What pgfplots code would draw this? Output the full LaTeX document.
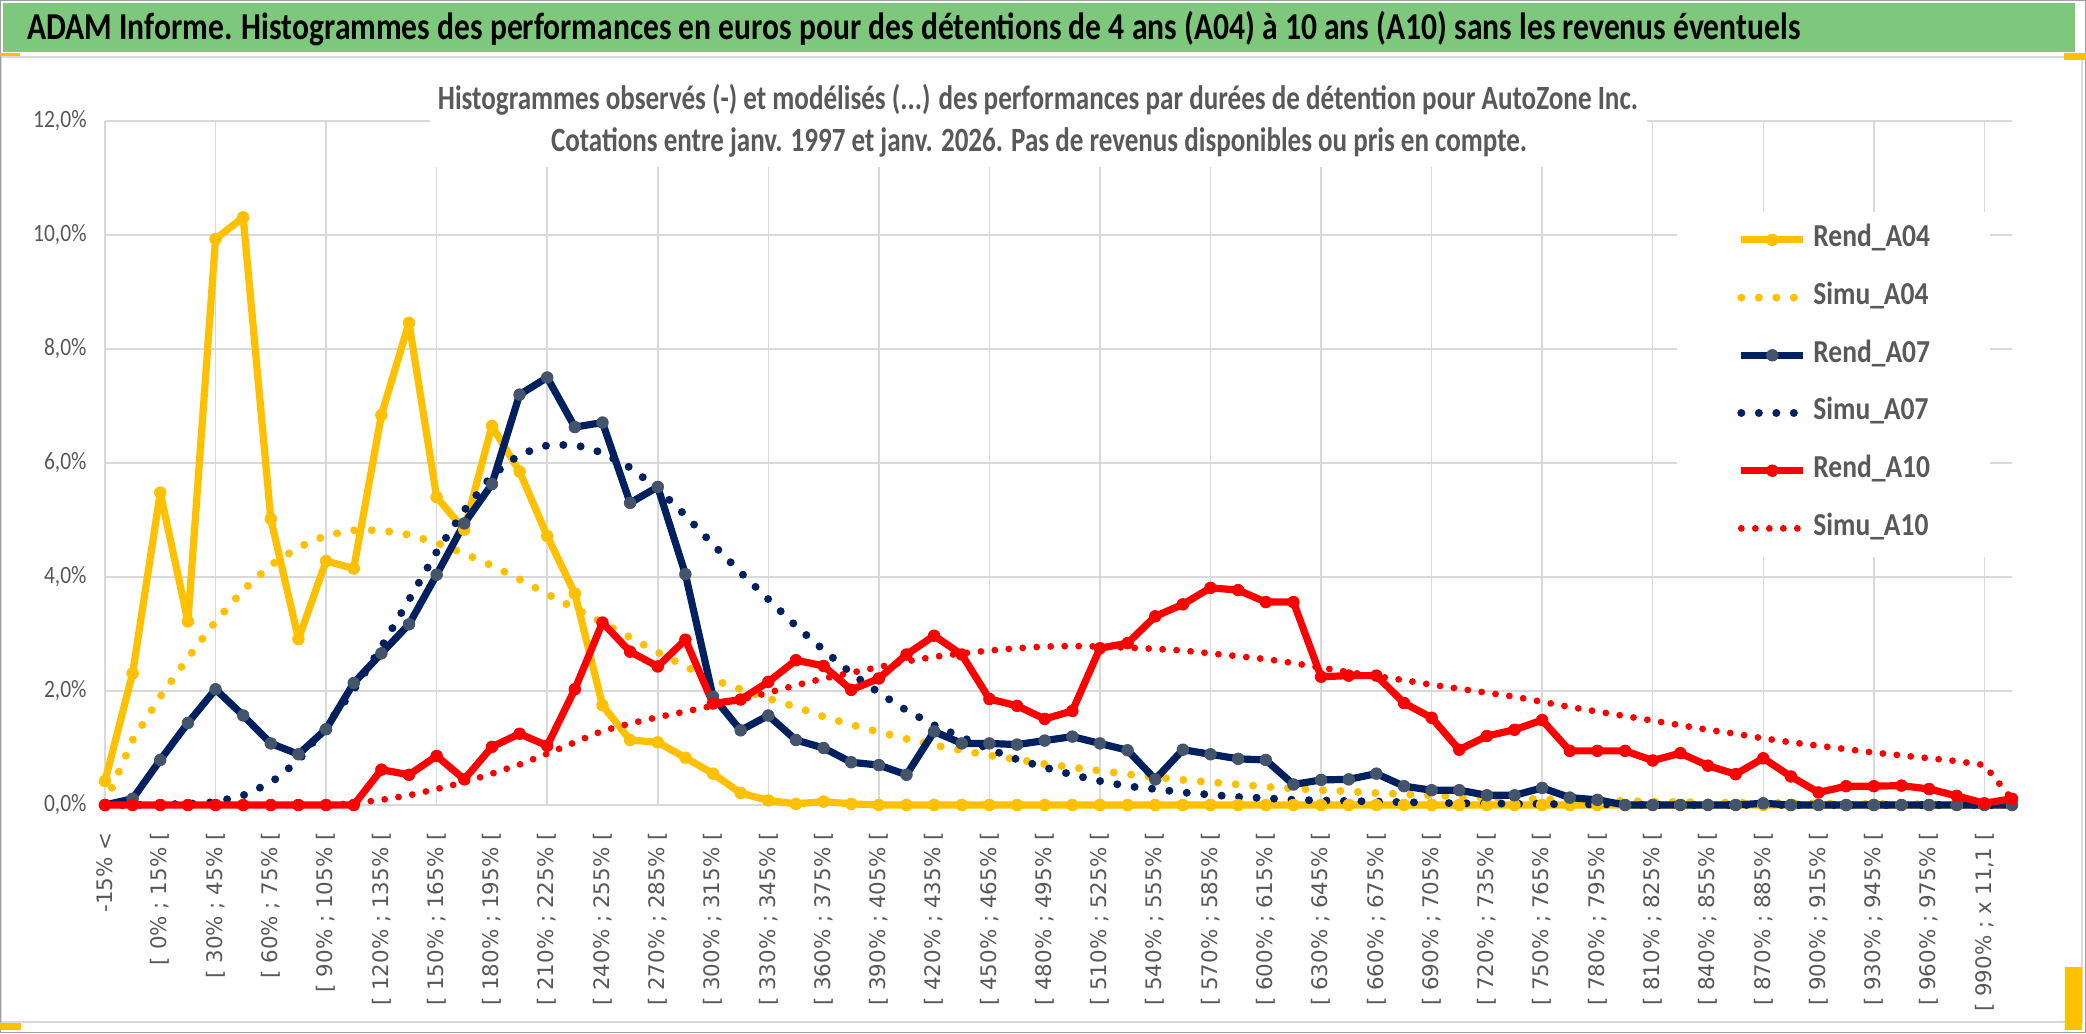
\documentclass[border=0pt]{standalone}
\usepackage{fontspec}
\setmainfont{Carlito}[FakeStretch=0.86]
\newfontfamily\tickfont{DejaVu Sans}
\usepackage{graphicx}
\usepackage{pgfplots}
\usepackage{pgfplotstable}
\pgfplotsset{compat=1.18}

\definecolor{cyellow}{HTML}{FFC000}
\definecolor{cnavy}{HTML}{002060}
\definecolor{cmark}{HTML}{44546A}
\definecolor{cred}{HTML}{FF0000}
\definecolor{txtgray}{HTML}{595959}
\definecolor{gridgray}{HTML}{D9D9D9}
\definecolor{bandgreen}{RGB}{125,200,125}

% i = classe de performance (0 = "-15% <", 2 = "[0%;15%[", ...)
\pgfplotstableread{
i r04 s04 r07 s07 r10 s10
0 0.42 0.02 0.00 0.00 0.00 0.00
1 2.31 1.14 0.11 0.00 0.00 0.00
2 5.48 1.90 0.79 0.01 0.00 0.00
3 3.22 2.58 1.44 0.02 0.00 0.00
4 9.93 3.22 2.03 0.05 0.00 0.00
5 10.31 3.77 1.57 0.17 0.00 0.00
6 5.02 4.21 1.08 0.39 0.00 0.00
7 2.91 4.52 0.89 0.78 0.00 0.00
8 4.28 4.73 1.33 1.39 0.00 0.00
9 4.15 4.82 2.14 2.02 0.00 0.03
10 6.84 4.82 2.66 2.77 0.62 0.09
11 8.46 4.74 3.17 3.60 0.53 0.17
12 5.40 4.60 4.04 4.44 0.86 0.28
13 4.83 4.41 4.94 5.17 0.45 0.40
14 6.65 4.20 5.63 5.78 1.02 0.55
15 5.85 3.96 7.20 6.15 1.25 0.71
16 4.72 3.70 7.50 6.31 1.04 0.90
17 3.71 3.45 6.63 6.32 2.03 1.10
18 1.75 3.20 6.71 6.18 3.20 1.30
19 1.14 2.94 5.30 5.92 2.69 1.43
20 1.10 2.68 5.58 5.55 2.43 1.54
21 0.83 2.43 4.05 5.08 2.90 1.64
22 0.55 2.20 1.90 4.57 1.78 1.74
23 0.21 2.03 1.31 4.08 1.85 1.85
24 0.08 1.87 1.57 3.61 2.16 1.97
25 0.02 1.72 1.14 3.14 2.54 2.10
26 0.06 1.55 1.00 2.72 2.44 2.22
27 0.02 1.41 0.75 2.31 2.02 2.32
28 0.00 1.28 0.70 1.97 2.22 2.42
29 0.00 1.16 0.53 1.66 2.64 2.52
30 0.00 1.05 1.29 1.40 2.97 2.60
31 0.00 0.96 1.08 1.19 2.64 2.66
32 0.00 0.87 1.08 0.98 1.86 2.71
33 0.00 0.80 1.06 0.80 1.74 2.75
34 0.00 0.72 1.13 0.66 1.51 2.78
35 0.00 0.66 1.20 0.53 1.65 2.79
36 0.00 0.60 1.08 0.42 2.75 2.78
37 0.00 0.54 0.96 0.33 2.84 2.76
38 0.00 0.49 0.45 0.28 3.31 2.74
39 0.00 0.44 0.97 0.22 3.52 2.71
40 0.00 0.40 0.89 0.18 3.81 2.66
41 0.00 0.36 0.81 0.14 3.77 2.61
42 0.00 0.32 0.79 0.12 3.56 2.56
43 0.00 0.29 0.36 0.09 3.56 2.49
44 0.00 0.26 0.44 0.08 2.25 2.41
45 0.00 0.24 0.45 0.07 2.27 2.33
46 0.00 0.21 0.55 0.06 2.27 2.26
47 0.00 0.19 0.33 0.05 1.79 2.19
48 0.00 0.17 0.26 0.04 1.53 2.11
49 0.00 0.15 0.26 0.03 0.97 2.04
50 0.00 0.13 0.17 0.03 1.21 1.97
51 0.00 0.12 0.17 0.02 1.32 1.90
52 0.00 0.10 0.30 0.02 1.49 1.81
53 0.00 0.09 0.13 0.01 0.95 1.72
54 0.00 0.08 0.09 0.01 0.95 1.64
55 0.00 0.07 0.00 0.01 0.95 1.56
56 0.00 0.06 0.00 0.00 0.78 1.48
57 0.00 0.05 0.00 0.00 0.91 1.40
58 0.00 0.05 0.00 0.00 0.69 1.32
59 0.00 0.04 0.00 0.00 0.54 1.25
60 0.00 0.04 0.03 0.00 0.82 1.17
61 0.00 0.03 0.00 0.00 0.50 1.10
62 0.00 0.03 0.00 0.00 0.22 1.04
63 0.00 0.02 0.00 0.00 0.33 0.98
64 0.00 0.02 0.00 0.00 0.33 0.92
65 0.00 0.02 0.00 0.00 0.34 0.87
66 0.00 0.01 0.00 0.00 0.28 0.82
67 0.00 0.01 0.00 0.00 0.16 0.77
68 0.00 0.01 0.00 0.00 0.03 0.70
69 0.00 0.00 0.00 0.00 0.11 0.10
}\datatable

\begin{document}
\begin{tikzpicture}
\useasboundingbox (0,0) rectangle (1043pt,516.5pt);
% cadre et bandeau de titre (unites = pixels de l'image)
\begin{scope}[x=0.5pt,y=0.5pt]
\fill[white] (0,0) rectangle (2086,1033);
\draw[gridgray, line width=0.75pt] (1,11) rectangle (2082,976);
\draw[gray!75, line width=0.75pt] (0.5,0.5) rectangle (2085.5,1032.5);
\fill[bandgreen] (3,981) rectangle (2075,1030);
\fill[cyellow] (0,3) rectangle (21,10);
\fill[cyellow] (0,977) rectangle (20,980);
\fill[cyellow] (2064,973) rectangle (2086,980);
\fill[cyellow] (2065,3) rectangle (2082,66);
\node[anchor=base west, inner sep=0pt] at (27,993)
  {\resizebox{886.5pt}{\height}{\bfseries\fontsize{19}{21}\selectfont ADAM Informe. Histogrammes des performances en euros pour des détentions de 4 ans (A04) à 10 ans (A10) sans les revenus éventuels}};
\end{scope}

\begin{axis}[
  at={(52.5pt,114pt)}, anchor=south west,
  width=953.5pt, height=342pt, scale only axis,
  xmin=0, xmax=69, ymin=0, ymax=12,
  clip=false,
  axis line style={draw=none},
  tick style={draw=none},
  major tick length=0pt,
  xtick={0,2,...,68},
  xticklabels={{-15\% <},{[ 0\% ; 15\% [},{[ 30\% ; 45\% [},{[ 60\% ; 75\% [},{[ 90\% ; 105\% [},
    {[ 120\% ; 135\% [},{[ 150\% ; 165\% [},{[ 180\% ; 195\% [},{[ 210\% ; 225\% [},{[ 240\% ; 255\% [},
    {[ 270\% ; 285\% [},{[ 300\% ; 315\% [},{[ 330\% ; 345\% [},{[ 360\% ; 375\% [},{[ 390\% ; 405\% [},
    {[ 420\% ; 435\% [},{[ 450\% ; 465\% [},{[ 480\% ; 495\% [},{[ 510\% ; 525\% [},{[ 540\% ; 555\% [},
    {[ 570\% ; 585\% [},{[ 600\% ; 615\% [},{[ 630\% ; 645\% [},{[ 660\% ; 675\% [},{[ 690\% ; 705\% [},
    {[ 720\% ; 735\% [},{[ 750\% ; 765\% [},{[ 780\% ; 795\% [},{[ 810\% ; 825\% [},{[ 840\% ; 855\% [},
    {[ 870\% ; 885\% [},{[ 900\% ; 915\% [},{[ 930\% ; 945\% [},{[ 960\% ; 975\% [},{[ 990\% ; x 11,1 [}},
  extra x ticks={0,4,...,68},
  extra x tick labels={},
  extra x tick style={grid=major},
  ytick={0,2,...,12},
  yticklabels={{0,0\%},{2,0\%},{4,0\%},{6,0\%},{8,0\%},{10,0\%},{12,0\%}},
  ymajorgrids,
  major grid style={draw=gridgray, line width=0.75pt},
  xticklabel style={rotate=90, anchor=east, inner sep=0pt,
    font=\tickfont\fontsize{10.7}{12}\selectfont, text=txtgray},
  xticklabel shift=13.5pt,
  yticklabel style={anchor=east, inner sep=0pt,
    font=\fontsize{12.5}{14}\selectfont, text=txtgray},
  yticklabel shift=9pt,
  legend style={at={(0.8243,0.868)}, anchor=north west, draw=none, fill=white,
    inner xsep=30pt, inner ysep=7.6pt, row sep=15.85pt, column sep=3pt,
    font=\bfseries\fontsize{16}{18}\selectfont, text=txtgray,
    nodes={inner sep=0pt, text height=10pt, text depth=3pt}},
  legend cell align=left,
  legend image code/.code={\draw[mark repeat=2,mark phase=2,#1]
    plot coordinates {(0pt,0pt) (15.5pt,0pt) (31pt,0pt)};},
]
\addplot[cyellow, line width=3.6pt, line join=round, mark=*, mark size=2.9pt,
  mark options={solid, fill=cyellow, draw=cyellow, line width=0.4pt}]
  table[x=i,y=r04]{\datatable};
\addlegendentry{Rend\_A04}
\addplot[cyellow, line width=4pt, line cap=round, dash pattern=on 0pt off 8.75pt]
  table[x=i,y=s04]{\datatable};
\addlegendentry{Simu\_A04}
\addplot[cnavy, line width=3.6pt, line join=round, mark=*, mark size=2.9pt,
  mark options={solid, fill=cmark, draw=cmark, line width=0.4pt}]
  table[x=i,y=r07]{\datatable};
\addlegendentry{Rend\_A07}
\addplot[cnavy, line width=4pt, line cap=round, dash pattern=on 0pt off 8.75pt]
  table[x=i,y=s07]{\datatable};
\addlegendentry{Simu\_A07}
\addplot[cred, line width=3.6pt, line join=round, mark=*, mark size=2.9pt,
  mark options={solid, fill=cred, draw=cred, line width=0.4pt}]
  table[x=i,y=r10]{\datatable};
\addlegendentry{Rend\_A10}
\addplot[cred, line width=3.4pt, line cap=round, dash pattern=on 0pt off 7pt]
  table[x=i,y=s10]{\datatable};
\addlegendentry{Simu\_A10}
\end{axis}

% sous-titre sur fond blanc (masque la grille)
\begin{scope}[x=0.5pt,y=0.5pt]
\fill[white] (430,866) rectangle (1647,972);
\node[anchor=base, inner sep=0pt, text=txtgray] at (1038,923)
  {\resizebox{600pt}{\height}{\bfseries\fontsize{17}{18}\selectfont Histogrammes observés (-) et modélisés (...) des performances par durées de détention pour AutoZone Inc.}};
\node[anchor=base, inner sep=0pt, text=txtgray] at (1039,881)
  {\resizebox{488pt}{\height}{\bfseries\fontsize{17}{18}\selectfont Cotations entre janv. 1997 et janv. 2026. Pas de revenus disponibles ou pris en compte.}};
\end{scope}
\end{tikzpicture}
\end{document}
